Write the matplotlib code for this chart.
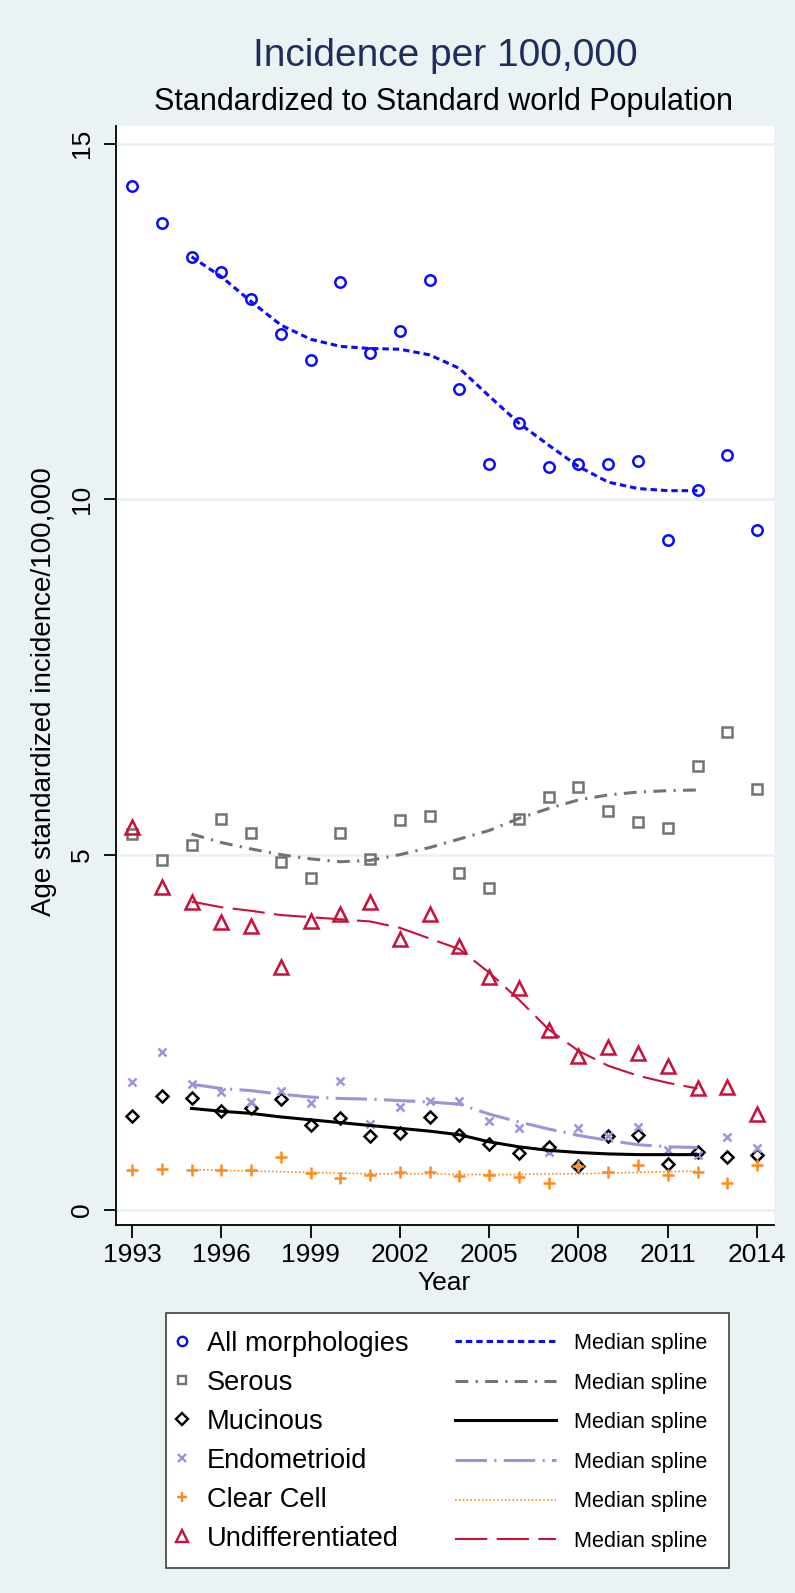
import matplotlib
matplotlib.use("Agg")
import matplotlib.pyplot as plt
from matplotlib.lines import Line2D
from matplotlib.patches import Rectangle

plt.rcParams["font.family"] = ["Liberation Sans", "DejaVu Sans"]

# observed incidence per year
years = list(range(1993, 2015))
all_morph = [14.40, 13.88, 13.41, 13.19, 12.81, 12.33, 11.96, 13.06, 12.05, 12.37, 13.09,
             11.55, 10.50, 11.07, 10.46, 10.50, 10.50, 10.54, 9.42, 10.13, 10.62, 9.57]
serous = [5.29, 4.92, 5.14, 5.50, 5.31, 4.90, 4.67, 5.31, 4.94, 5.49, 5.55,
          4.74, 4.53, 5.50, 5.81, 5.95, 5.62, 5.46, 5.37, 6.25, 6.72, 5.92]
mucinous = [1.33, 1.60, 1.58, 1.39, 1.43, 1.56, 1.20, 1.30, 1.04, 1.09, 1.31,
            1.05, 0.93, 0.80, 0.89, 0.62, 1.04, 1.06, 0.65, 0.82, 0.75, 0.77]
endometrioid = [1.80, 2.22, 1.77, 1.66, 1.52, 1.68, 1.50, 1.82, 1.21, 1.45, 1.53,
                1.54, 1.26, 1.16, 0.82, 1.15, 1.04, 1.17, 0.85, 0.77, 1.03, 0.87]
clear_cell = [0.57, 0.58, 0.57, 0.57, 0.56, 0.75, 0.52, 0.45, 0.50, 0.53, 0.53,
              0.48, 0.49, 0.47, 0.38, 0.62, 0.54, 0.63, 0.49, 0.54, 0.38, 0.64]
undiff = [5.39, 4.55, 4.34, 4.05, 3.99, 3.42, 4.07, 4.16, 4.34, 3.81, 4.17,
          3.72, 3.28, 3.12, 2.54, 2.17, 2.29, 2.21, 2.03, 1.72, 1.73, 1.35]

# median splines (1995-2012)
spline_years = list(range(1995, 2013))
all_spline = [13.41, 13.13, 12.78, 12.45, 12.25, 12.15, 12.12, 12.11, 12.03,
              11.84, 11.45, 11.07, 10.76, 10.46, 10.24, 10.15, 10.12, 10.12]
serous_spline = [5.29, 5.17, 5.08, 5.00, 4.94, 4.90, 4.92, 5.00, 5.10,
                 5.22, 5.34, 5.51, 5.65, 5.77, 5.84, 5.88, 5.90, 5.91]
muc_spline = [1.43, 1.39, 1.36, 1.31, 1.27, 1.23, 1.19, 1.15, 1.11,
              1.06, 0.96, 0.89, 0.84, 0.81, 0.79, 0.78, 0.78, 0.78]
endo_spline = [1.77, 1.71, 1.68, 1.63, 1.59, 1.57, 1.56, 1.54, 1.52,
               1.49, 1.35, 1.24, 1.14, 1.05, 0.98, 0.92, 0.89, 0.88]
clear_spline = [0.57, 0.56, 0.55, 0.54, 0.53, 0.52, 0.51, 0.51, 0.51,
                0.50, 0.50, 0.50, 0.51, 0.51, 0.52, 0.53, 0.54, 0.55]
undiff_spline = [4.34, 4.26, 4.21, 4.15, 4.12, 4.09, 4.06, 3.97, 3.82,
                 3.67, 3.34, 2.96, 2.54, 2.24, 2.03, 1.89, 1.79, 1.71]

labels = ["All morphologies", "Serous", "Mucinous", "Endometrioid",
          "Clear Cell", "Undifferentiated"]
xticks = [1993, 1996, 1999, 2002, 2005, 2008, 2011, 2014]
yticks = [0, 5, 10, 15]

BG = "#eaf2f3"
W, H = 795, 1593

series = [
    (all_morph, all_spline, "#0a0aff", "o", 7.5, 2.2, (0, (2.1, 1.3))),
    (serous, serous_spline, "#737373", "s", 7.0, 2.2, (0, (4.2, 2.4, 0.7, 2.4))),
    (mucinous, muc_spline, "black", "D", 6.5, 2.2, "solid"),
    (endometrioid, endo_spline, "#9b95d8", "x", 6.0, 2.2, (0, (10.3, 2.4, 0.7, 2.4))),
    (clear_cell, clear_spline, "#ff8a1c", "+", 8.5, 1.2, (0, (1, 1.3))),
    (undiff, undiff_spline, "#c8103a", "^", 10.0, 1.5, (0, (15.5, 4.5))),
]

fig = plt.figure(figsize=(W / 100, H / 100), dpi=100, facecolor=BG)
ax = fig.add_axes([116 / W, 1 - 1225 / H, (774 - 116) / W, (1225 - 126) / H])
ax.set_facecolor("white")

marker_handles = []
line_handles = []
for obs, spl, color, marker, ms, lw, ls in series:
    ax.plot(years, obs, linestyle="none", marker=marker, ms=ms, mfc="none",
            mec=color, mew=1.8, zorder=3)
    ax.plot(spline_years, spl, color=color, lw=lw, linestyle=ls, zorder=4)
    marker_handles.append(Line2D([], [], linestyle="none", marker=marker,
                                 ms=ms * 0.9, mfc="none", mec=color, mew=1.7))
    line_handles.append(Line2D([], [], color=color, lw=lw, linestyle=ls))

ax.set_xlim(1992.46, 2014.57)
ax.set_ylim(-0.21, 15.25)
ax.set_xticks(xticks)
ax.set_yticks(yticks)
ax.yaxis.grid(True, color=BG, lw=2)
ax.set_axisbelow(True)
for s in ["top", "right"]:
    ax.spines[s].set_visible(False)
for s in ["left", "bottom"]:
    ax.spines[s].set_linewidth(1.3)
ax.tick_params(axis="both", length=9, width=1.3, labelsize=19)
ax.tick_params(axis="x", pad=4)
ax.tick_params(axis="y", pad=7)
for t in ax.get_yticklabels():
    t.set_rotation(90)
    t.set_va("center")

fig.text(445 / W, 1 - 56 / H, "Incidence per 100,000", ha="center", va="center",
         fontsize=28, color="#1f2d5c")
fig.text(444 / W, 1 - 102 / H, "Standardized to Standard world Population",
         ha="center", va="center", fontsize=22)
fig.text(444 / W, 1 - 1283 / H, "Year", ha="center", va="center", fontsize=19)
fig.text(44 / W, 1 - 692 / H, "Age standardized incidence/100,000", ha="center",
         va="center", rotation=90, fontsize=20)

# legend frame and two columns
fig.patches.append(Rectangle((166 / W, 1 - 1568 / H), (729 - 166) / W, (1568 - 1313) / H,
                             transform=fig.transFigure, facecolor="white",
                             edgecolor="#404040", lw=1.2, zorder=0))
fig.legend(marker_handles, labels, loc="upper left",
           bbox_to_anchor=(174 / W, 1 - 1331 / H), frameon=False, fontsize=19.6,
           handlelength=0.6, handletextpad=0.62, labelspacing=0.475,
           borderpad=0, borderaxespad=0)
fig.legend(line_handles, ["Median spline"] * 6, loc="upper left",
           bbox_to_anchor=(455 / W, 1 - 1333 / H), frameon=False, fontsize=15.6,
           handlelength=4.65, handletextpad=0.83, labelspacing=0.855,
           borderpad=0, borderaxespad=0)

fig.savefig("out.png", dpi=100, facecolor=BG)
